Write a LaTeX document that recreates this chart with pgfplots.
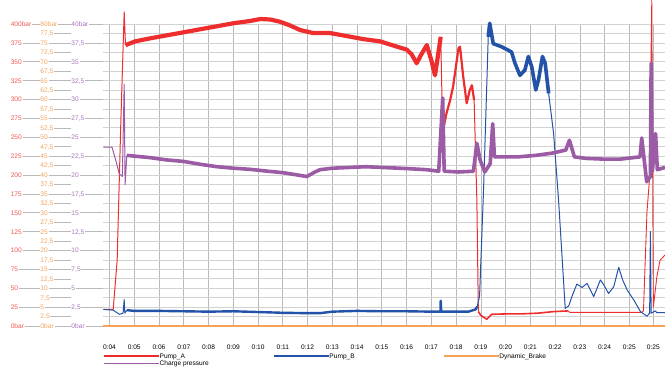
\documentclass[border=0pt]{standalone}
\usepackage{pgfplots}
\pgfplotsset{compat=1.18}
\usepackage{fontspec}
\setmainfont{Liberation Sans}
\definecolor{cA}{HTML}{EE2E2E}
\definecolor{cB}{HTML}{2353A8}
\definecolor{cD}{HTML}{F5A35C}
\definecolor{cP}{HTML}{9B5BA5}
\definecolor{lR}{HTML}{EE5A52}
\definecolor{lO}{HTML}{F3A25A}
\definecolor{lP}{HTML}{A775BA}
\newcommand\LD{{\color{gray!55}\leaders\hrule height 2.7pt depth -2.1pt\hfill}}
\newcommand\YM[3]{\makebox[29.7pt][l]{\color{lR}#1\hspace{0.8pt}\LD}\makebox[31pt][l]{\color{lO}#2\hspace{0.8pt}\LD}\makebox[31.6pt][l]{\color{lP}#3\hspace{0.8pt}\LD}}
\newcommand\Ym[1]{\makebox[29.7pt]{}\makebox[31pt][l]{\color{lO}#1\hspace{0.8pt}\LD}\makebox[31.6pt]{}}
\newcommand\fs{\fontsize{6.6}{7.5}\selectfont}
\begin{document}
\begin{tikzpicture}
\begin{axis}[
  at={(103.3pt,47pt)}, anchor=south west,
  scale only axis, width=561.7pt, height=302pt,
  xmin=3.75, xmax=26.44, ymin=0, ymax=400,
  clip=false,
  axis line style={draw=none},
  tick style={draw=none},
  major tick length=0pt,
  xmajorgrids, ymajorgrids,
  x grid style={gray!55, line width=0.6pt},
  y grid style={gray!35, line width=0.7pt},
  ytick={0,12.5,...,400},
  yticklabels={
   {\YM{0bar}{0bar}{0bar}},{\Ym{2,5}},
   {\YM{25}{5}{2,5}},{\Ym{7,5}},
   {\YM{50}{10}{5}},{\Ym{12,5}},
   {\YM{75}{15}{7,5}},{\Ym{17,5}},
   {\YM{100}{20}{10}},{\Ym{22,5}},
   {\YM{125}{25}{12,5}},{\Ym{27,5}},
   {\YM{150}{30}{15}},{\Ym{32,5}},
   {\YM{175}{35}{17,5}},{\Ym{37,5}},
   {\YM{200}{40}{20}},{\Ym{42,5}},
   {\YM{225}{45}{22,5}},{\Ym{47,5}},
   {\YM{250}{50}{25}},{\Ym{52,5}},
   {\YM{275}{55}{27,5}},{\Ym{57,5}},
   {\YM{300}{60}{30}},{\Ym{62,5}},
   {\YM{325}{65}{32,5}},{\Ym{67,5}},
   {\YM{350}{70}{35}},{\Ym{72,5}},
   {\YM{375}{75}{37,5}},{\Ym{77,5}},
   {\YM{400bar}{80bar}{40bar}}},
  yticklabel style={anchor=east, inner sep=0pt, font=\fs, text height=4.8pt, text depth=0pt},
  xtick={4,5,6,7,8,9,10,11,12,13,14,15,16,17,18,19,20,21,22,23,24,25,25.97},
  xticklabels={0:04,0:05,0:06,0:07,0:08,0:09,0:10,0:11,0:12,0:13,0:14,0:15,0:16,0:17,0:18,0:19,0:20,0:21,0:22,0:23,0:24,0:25,0:25},
  xticklabel style={font=\fs, inner sep=0pt, yshift=-18.3pt, text height=4.8pt, text depth=0pt},
  legend columns=3,
  legend image code/.code={\draw[#1] (0pt,0pt) -- (55pt,0pt);},
  legend style={at={(axis description cs:0,-0.091)}, anchor=north west, draw=none, fill=none,
    inner sep=0pt, outer sep=0pt, column sep=0pt, row sep=2.6pt, font=\fs,
    nodes={inner sep=0pt, anchor=west, text height=4.8pt, text depth=0pt}},
]
\addlegendimage{cA, line width=1.3pt}
\addlegendentry{\makebox[113.6pt][l]{Pump\_A}}
\addlegendimage{cB, line width=1.3pt}
\addlegendentry{\makebox[113.6pt][l]{Pump\_B}}
\addlegendimage{cD, line width=1.3pt}
\addlegendentry{\makebox[113.6pt][l]{Dynamic\_Brake}}
\addlegendimage{cP, line width=1.3pt}
\addlegendentry{\makebox[113.6pt][l]{Charge pressure}}

% Pump_A
\addplot[cA, line width=1pt, line join=round, forget plot] coordinates {
 (3.75,22) (4.15,22) (4.31,87) (4.46,272) (4.594,416) (4.646,372)};
\addplot[cA, line width=4.2pt, line join=round, forget plot] coordinates {
 (4.646,372) (5.04,377) (5.64,381) (6.32,385) (6.99,389) (7.66,393) (8.34,397)
 (9.0,401) (9.68,404) (10.09,406.6) (10.49,406) (10.89,403) (11.3,398) (11.7,392)
 (12.23,388) (12.91,388) (13.59,384) (14.25,380) (14.93,377) (15.61,370) (16.01,366)
 (16.2,360) (16.41,348) (16.6,360) (16.82,372) (17.0,352) (17.15,332) (17.3,365) (17.38,383)};
\addplot[cA, line width=1pt, line join=round, forget plot] coordinates {
 (17.38,383) (17.45,273) (17.49,262)};
\addplot[cA, line width=2.2pt, line join=round, forget plot] coordinates {
 (17.49,262) (17.6,280) (17.76,299) (17.88,317) (18.0,345) (18.10,368) (18.16,370)
 (18.29,330) (18.43,295) (18.55,312) (18.64,319) (18.73,299)};
\addplot[cA, line width=1pt, line join=round, forget plot] coordinates {
 (18.73,299) (18.84,167) (18.90,19)};
\addplot[cA, line width=1.6pt, line join=round, forget plot] coordinates {
 (18.90,19) (19.0,14) (19.24,9) (19.44,15.5) (20.0,16) (20.59,16) (21.3,17) (21.92,19) (22.52,20)};
\addplot[cA, line width=0.9pt, line join=round, forget plot] coordinates {
 (22.52,20) (22.6,18) (25.5,18) (25.57,20) (25.71,150) (25.81,193) (25.906,432)
 (25.97,25) (26.11,65) (26.24,87) (26.44,94)};

% Pump_B
\addplot[cB, line width=1pt, line join=round, forget plot] coordinates {
 (3.75,22) (4.15,21) (4.40,15.5) (4.55,17) (4.594,35) (4.62,17) (4.7,21)};
\addplot[cB, line width=2.4pt, line join=round, forget plot] coordinates {
 (4.7,21) (5.0,20) (6.0,20) (7.0,19.5) (8.0,19) (9.0,19.5) (10.0,18.5) (11.0,17.5)
 (12.0,17) (12.5,17) (13.0,19) (14.0,20) (15.0,19.5) (16.0,19.5) (17.0,19) (17.37,19)
 (17.38,33.5) (17.40,19) (18.5,19) (18.79,22) (18.86,26)};
\addplot[cB, line width=1pt, line join=round, forget plot] coordinates {
 (18.86,26) (18.95,40) (19.11,180) (19.30,383)};
\addplot[cB, line width=3.6pt, line join=round, forget plot] coordinates {
 (19.30,383) (19.36,401) (19.50,374) (19.83,370) (20.24,363) (20.38,348) (20.58,332)
 (20.78,339) (20.92,357) (21.06,343) (21.22,312.6) (21.33,326) (21.49,357) (21.60,348) (21.74,308)};
\addplot[cB, line width=1pt, line join=round, forget plot] coordinates {
 (21.74,308) (21.94,255) (22.14,167) (22.41,23.4) (22.55,26.5) (22.68,39) (22.88,55.6)
 (23.09,51) (23.29,56.5) (23.56,39) (23.83,61) (23.96,55) (24.16,43) (24.37,52)
 (24.57,77.7) (24.73,61) (24.91,47.7) (25.18,34.4) (25.45,19) (25.71,13) (25.82,17)
 (25.85,125) (25.88,17) (26.05,20) (26.11,17.6) (26.44,17.6)};

% Dynamic_Brake
\addplot[cD, line width=1.6pt, forget plot] coordinates {(3.75,0) (26.44,0)};

% Charge pressure (purple scale, x10 on the common axis)
\addplot[cP, line width=1pt, line join=round, forget plot] table[y expr=\thisrowno{1}*10] {
x y
3.75 23.7
4.10 23.7
4.25 22
4.39 20.2
4.52 19.8
4.594 32
4.63 18.7
4.70 22.6
};
\addplot[cP, line width=3.6pt, line join=round, forget plot] table[y expr=\thisrowno{1}*10] {
x y
4.70 22.6
5.0 22.5
5.64 22.3
6.3 22.0
6.99 21.8
7.7 21.4
8.34 21.1
9.0 20.9
9.68 20.75
10.4 20.5
11.03 20.3
11.6 20.0
11.97 19.8
12.3 20.4
12.5 20.7
13.0 20.9
13.7 21.0
14.37 21.1
15.0 21.0
15.7 20.9
16.3 20.8
16.82 20.7
17.3 20.5
17.46 30.2
17.52 20.5
18.1 20.4
18.7 20.5
18.84 24.2
18.97 22
19.16 20.4
19.38 21.5
19.48 26.8
19.55 22.4
20.5 22.4
21.22 22.6
21.89 22.9
22.43 23.3
22.58 24.6
22.78 22.4
23.25 22.2
24.0 22.1
24.62 22.1
25.43 22.4
25.50 24.9
25.70 19.1
25.85 19.8
25.88 34.8
25.93 20.5
26.06 25.5
26.13 20.7
26.44 21
};
\end{axis}
\pgfresetboundingbox
\path[use as bounding box] (0,0) rectangle (665pt,373pt);
\end{tikzpicture}
\end{document}
